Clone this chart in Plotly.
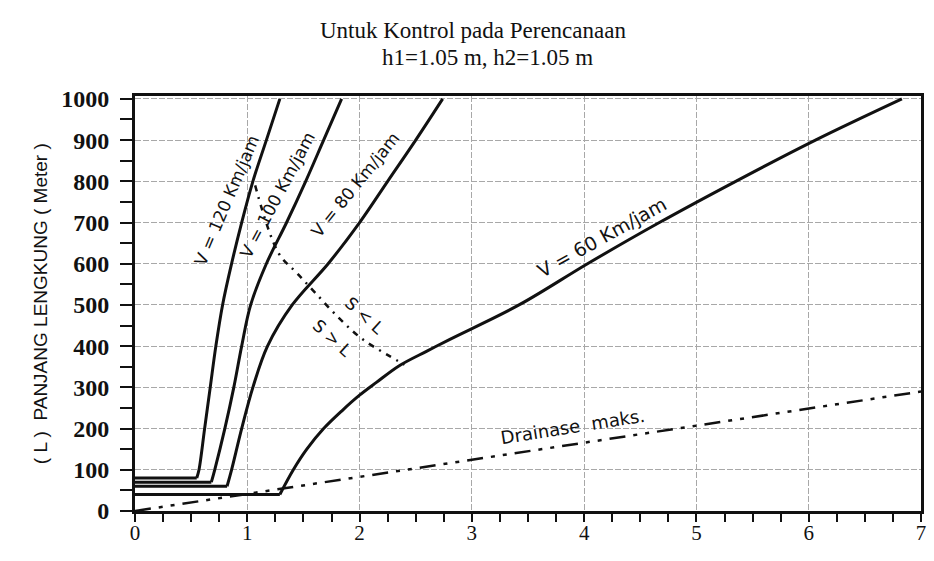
import plotly.graph_objects as go

# Algebraic grade difference A (%) against crest-curve length L (m)
a_120 = [0, 0.55, 0.57, 0.62, 0.67, 0.72, 0.78, 0.86, 0.95, 1.05, 1.17, 1.29]
l_120 = [80, 80, 100, 200, 300, 400, 500, 600, 700, 800, 900, 1000]

a_100 = [0, 0.68, 0.71, 0.80, 0.88, 0.95, 1.03, 1.17, 1.35, 1.52, 1.68, 1.84]
l_100 = [70, 70, 100, 200, 300, 400, 500, 600, 700, 800, 900, 1000]

a_80 = [0, 0.82, 0.86, 0.95, 1.05, 1.18, 1.40, 1.72, 2.00, 2.25, 2.50, 2.74]
l_80 = [60, 60, 100, 200, 300, 400, 500, 600, 700, 800, 900, 1000]

a_60 = [0, 1.29, 1.41, 1.53, 1.68, 1.85, 2.00, 2.15, 2.35, 2.60, 2.80, 3.42, 4.03, 4.67,
        5.35, 6.06, 6.83]
l_60 = [40, 40, 100, 150, 200, 245, 281, 312, 352, 388, 416, 500, 600, 700,
        800, 900, 1000]

# Boundary between the S < L and S > L cases
a_sl = [1.07, 1.28, 1.44, 1.61, 1.81, 2.02, 2.26, 2.40]
l_sl = [790, 625, 578, 528, 470, 418, 377, 355]

# Maximum length for drainage
a_dr = [0, 7]
l_dr = [0, 290]

x_ticks = [0, 1, 2, 3, 4, 5, 6, 7]
y_ticks = [0, 100, 200, 300, 400, 500, 600, 700, 800, 900, 1000]

INK = "#111111"
fig = go.Figure()

for a, l in [(a_120, l_120), (a_100, l_100), (a_80, l_80), (a_60, l_60)]:
    # flat minimum-length segment, then the smooth rising branch
    fig.add_trace(go.Scatter(x=a[:2], y=l[:2], mode="lines",
                             line=dict(color=INK, width=3),
                             showlegend=False, hoverinfo="skip"))
    fig.add_trace(go.Scatter(x=a[1:], y=l[1:], mode="lines",
                             line=dict(color=INK, width=3, shape="spline", smoothing=1),
                             showlegend=False, hoverinfo="skip"))

fig.add_trace(go.Scatter(x=a_sl, y=l_sl, mode="lines",
                         line=dict(color=INK, width=2.5, dash="6px,6px,2px,6px",
                                   shape="spline"),
                         showlegend=False, hoverinfo="skip"))
fig.add_trace(go.Scatter(x=a_dr, y=l_dr, mode="lines",
                         line=dict(color=INK, width=2.5,
                                   dash="16px,8px,4px,8px,4px,8px"),
                         showlegend=False, hoverinfo="skip"))

curve_labels = [
    ("V = 120 Km/jam", 0.82, 754, -67, 17),
    ("V = 100 Km/jam", 1.27, 766, -62, 17),
    ("V = 80 Km/jam", 1.96, 791, -51, 17),
    ("V = 60 Km/jam", 4.16, 664, -29, 19),
    ("Drainase  maks.", 3.90, 204, -9, 18),
    ("S < L", 2.05, 474, 42, 17),
    ("S > L", 1.76, 421, 42, 17),
]
for text, x, y, ang, size in curve_labels:
    fig.add_annotation(x=x, y=y, xref="x", yref="y", text=text, showarrow=False,
                       textangle=ang,
                       font=dict(family="DejaVu Sans", size=size, color=INK))

title_font = dict(family="Liberation Serif", size=23, color=INK)
fig.add_annotation(x=0.430, y=1.157, xref="paper", yref="paper", showarrow=False,
                   xanchor="center", yanchor="middle",
                   text="Untuk Kontrol pada Perencanaan", font=title_font)
fig.add_annotation(x=0.449, y=1.092, xref="paper", yref="paper", showarrow=False,
                   xanchor="center", yanchor="middle",
                   text="h1=1.05 m, h2=1.05 m", font=title_font)
fig.add_annotation(x=-0.120, y=0.5, xref="paper", yref="paper", showarrow=False,
                   xanchor="center", yanchor="middle",
                   text="( L )  PANJANG LENGKUNG ( Meter )", textangle=-90,
                   font=dict(family="Liberation Sans", size=19, color=INK))

grid = dict(showgrid=True, gridcolor="#a8a8a8", gridwidth=1, griddash="6px,2px")

fig.update_xaxes(range=[0, 7], tickvals=x_ticks, ticks="outside", ticklen=8,
                 tickwidth=2, tickcolor=INK,
                 minor=dict(dtick=0.25, ticks="outside", ticklen=8, tickwidth=2,
                            tickcolor=INK, showgrid=False),
                 showline=True, linecolor=INK, linewidth=3, mirror=True,
                 zeroline=False, ticklabelstandoff=-7,
                 tickfont=dict(family="Liberation Serif", size=21, color=INK),
                 **grid)
fig.update_yaxes(range=[0, 1007], tickvals=y_ticks, ticks="outside", ticklen=12,
                 tickwidth=2, tickcolor=INK,
                 minor=dict(dtick=50, ticks="outside", ticklen=12, tickwidth=2,
                            tickcolor=INK, showgrid=False),
                 showline=True, linecolor=INK, linewidth=3, mirror=True,
                 zeroline=False, ticklabelstandoff=6,
                 tickfont=dict(family="Liberation Serif", size=24, color=INK,
                               weight="bold"),
                 **grid)

fig.update_layout(width=934, height=561, margin=dict(l=135, r=8, t=96, b=50),
                  plot_bgcolor="white", paper_bgcolor="white")

fig.write_html("out.html")
